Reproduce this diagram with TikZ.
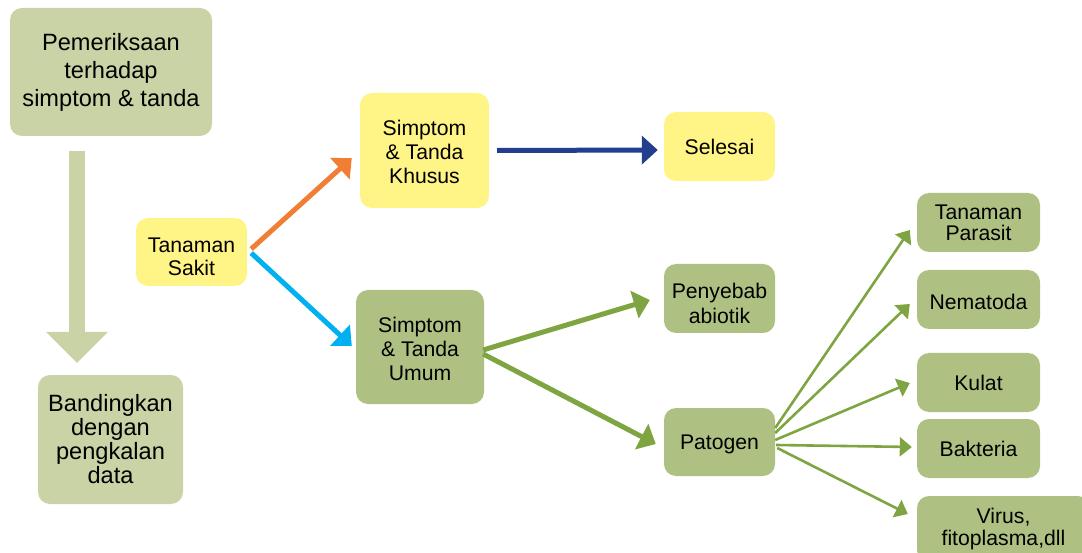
\documentclass[tikz,border=0pt]{standalone}
\usepackage{fontspec}
\setmainfont{Liberation Sans}
\usetikzlibrary{arrows.meta,calc}
\definecolor{pale}{RGB}{201,211,165}
\definecolor{mgreen}{RGB}{174,193,130}
\definecolor{agreen}{RGB}{126,165,65}
\definecolor{yel}{RGB}{255,244,134}
\definecolor{orng}{RGB}{240,126,53}
\definecolor{cyanb}{RGB}{0,176,240}
\definecolor{dblue}{RGB}{35,62,143}
\newcommand{\lowtxt}[2]{\raisebox{-#1}[\height][\depth]{\begin{tabular}{@{}c@{}}#2\end{tabular}}}
\tikzset{
  box/.style={rounded corners=12pt, inner sep=0pt, align=center, text=black,
    font=\fontsize{21.2}{24}\selectfont},
  bigbox/.style={box, font=\fontsize{23.6}{28}\selectfont},
  thick arrow/.style={line width=5pt, -{Triangle[length=16pt,width=28pt]}},
  thin arrow/.style={line width=2.6pt, draw=agreen, -{Triangle[length=12pt,width=19pt]}}
}
\begin{document}
\begin{tikzpicture}[x=1pt,y=-1pt]
\useasboundingbox (0,0) rectangle (1082,553);
% boxes
\node[bigbox, fill=pale, minimum width=202pt, minimum height=128pt] (pem) at (111,72) {Pemeriksaan\\terhadap\\simptom \& tanda};
\node[bigbox, fill=pale, minimum width=145pt, minimum height=129pt, font=\fontsize{23.6}{24}\selectfont] (band) at (110.5,439.5) {Bandingkan\\dengan\\pengkalan\\data};
\node[box, fill=yel, minimum width=111pt, minimum height=68pt, font=\fontsize{21.2}{23}\selectfont] (sakit) at (191.5,252) {\lowtxt{7pt}{Tanaman\\Sakit}};
\node[box, fill=yel, minimum width=129pt, minimum height=115pt] (khusus) at (424.5,150.5) {\lowtxt{4pt}{Simptom\\\& Tanda\\Khusus}};
\node[box, fill=mgreen, minimum width=128pt, minimum height=114pt] (umum) at (420,347) {\lowtxt{5pt}{Simptom\\\& Tanda\\Umum}};
\node[box, fill=yel, minimum width=111pt, minimum height=69pt] (selesai) at (719.5,146.5) {Selesai};
\node[box, fill=mgreen, minimum width=111pt, minimum height=69pt, font=\fontsize{21.2}{25}\selectfont] (abiotik) at (719.5,298.5) {\lowtxt{8pt}{Penyebab\\abiotik}};
\node[box, fill=mgreen, minimum width=111pt, minimum height=68pt] (patogen) at (719.5,442) {\lowtxt{3pt}{Patogen}};
\node[box, fill=mgreen, minimum width=123pt, minimum height=59pt, font=\fontsize{21.2}{21}\selectfont] (parasit) at (978.5,222.5) {Tanaman\\Parasit};
\node[box, fill=mgreen, minimum width=123pt, minimum height=59pt] (nema) at (978.5,299.5) {\lowtxt{5pt}{Nematoda}};
\node[box, fill=mgreen, minimum width=123pt, minimum height=59pt] (kulat) at (978.5,382.5) {Kulat};
\node[box, fill=mgreen, minimum width=123pt, minimum height=59pt] (bakt) at (978.5,448.5) {Bakteria};
\node[box, fill=mgreen, minimum width=173pt, minimum height=66pt, font=\fontsize{21.2}{22}\selectfont] (virus) at (1003.5,529) {Virus,\\fitoplasma,dll};
% big block arrow
\coordinate (ds) at (77,151);
\coordinate (de) at (77,363);
\draw[pale, line width=16pt, -{Triangle[length=31pt,width=60pt]}] (ds) -- (de);
% arrows
\draw[thick arrow, orng] ($(sakit.east)+(4,-3)$) -- ($(khusus.west)+(-8,7.5)$);
\draw[thick arrow, cyanb] ($(sakit.east)+(4,1)$) -- ($(umum.west)+(-4,-1)$);
\draw[thick arrow, dblue] ($(khusus.east)+(8,0)$) -- ($(selesai.west)+(-6,3.5)$);
\draw[thick arrow, agreen] ($(umum.east)+(-1,3)$) -- ($(abiotik.west)+(-14,1.5)$);
\draw[thick arrow, agreen] ($(umum.east)+(-1,7)$) -- ($(patogen.west)+(-8,2)$);
\draw[thin arrow] ($(patogen.east)+(0,-14)$) -- ($(parasit.west)+(-7,7.5)$);
\draw[thin arrow] ($(patogen.east)+(0,-9)$) -- ($(nema.west)+(-7,4.5)$);
\draw[thin arrow] ($(patogen.east)+(0,-2)$) -- ($(kulat.west)+(-7,0.5)$);
\draw[thin arrow] ($(patogen.east)+(1,3)$) -- ($(bakt.west)+(-5,-1.5)$);
\draw[thin arrow] ($(patogen.east)+(2,6)$) -- ($(virus.west)+(-9,-15)$);
\end{tikzpicture}
\end{document}
